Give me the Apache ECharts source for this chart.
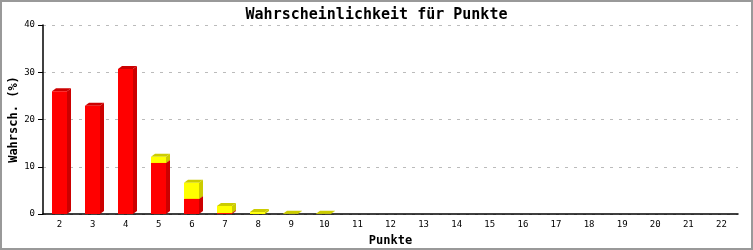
<!DOCTYPE html>
<html><head><meta charset="utf-8">
<script src="https://cdn.jsdelivr.net/npm/echarts@6/dist/echarts.min.js"></script>
<style>html,body{margin:0;padding:0;background:#fff}#c{width:753px;height:250px;position:absolute;left:0;top:0}#f{position:absolute;left:0;top:0;width:753px;height:250px;box-sizing:border-box;border:2px solid #999;pointer-events:none}</style>
</head><body><div id="c"></div><div id="f"></div>
<script>
const categories = ['2','3','4','5','6','7','8','9','10','11','12','13','14','15','16','17','18','19','20','21','22'];
const redValues = [26.0, 22.9, 30.7, 10.8, 3.2, 0.2, 0, 0, 0, 0, 0, 0, 0, 0, 0, 0, 0, 0, 0, 0, 0];
const yellowValues = [0, 0, 0, 1.3, 3.4, 1.5, 0.4, 0.05, 0.05, 0, 0, 0, 0, 0, 0, 0, 0, 0, 0, 0, 0];
const yTicks = [0, 10, 20, 30, 40];

const chart = echarts.init(document.getElementById('c'), null, {renderer: 'canvas'});
function make3D(values, bases, front, dark) {
  return {
    type: 'custom',
    data: values.map((v, i) => [i, bases[i], v]),
    encode: {x: 0, y: [1, 2]},
    renderItem: function (params, api) {
      const i = api.value(0), b = api.value(1), v = api.value(2);
      if (!v) return null;
      const p0 = api.coord([i, b]);
      const p1 = api.coord([i, b + v]);
      const w = 15, dx = 4, dy = 3;
      const x0 = Math.round(p0[0] - 8), x1 = x0 + w;
      const yb = p0[1], yt = p1[1];
      return {
        type: 'group',
        children: [
          {type: 'polygon', shape: {points: [[x1, yb], [x1 + dx, yb - dy], [x1 + dx, yt - dy], [x1, yt]]}, style: {fill: dark}},
          {type: 'polygon', shape: {points: [[x0, yt], [x0 + dx, yt - dy], [x1 + dx, yt - dy], [x1, yt]]}, style: {fill: dark}},
          {type: 'rect', shape: {x: x0, y: yt, width: w, height: yb - yt}, style: {fill: front}}
        ]
      };
    }
  };
}
const zeros = redValues.map(() => 0);
chart.setOption({
  animation: false,
  title: {text: 'Wahrscheinlichkeit für Punkte', left: 'center', top: 3,
    textStyle: {fontFamily: 'DejaVu Sans Mono', fontSize: 15, fontWeight: 'bold', color: '#000'}},
  grid: {left: 43, right: 15, top: 25, bottom: 36, outerBoundsMode: 'none', containLabel: false},
  xAxis: {type: 'category', data: categories, name: 'Punkte', nameLocation: 'middle', nameGap: 21,
    nameMoveOverlap: false,
    nameTextStyle: {fontFamily: 'DejaVu Sans Mono', fontSize: 12, fontWeight: 'bold', color: '#000'},
    axisLine: {lineStyle: {color: '#000', width: 1.5}}, axisTick: {show: false},
    axisLabel: {fontFamily: 'DejaVu Sans Mono', fontSize: 9, color: '#000', margin: 6}},
  yAxis: {type: 'value', min: 0, max: 40, interval: 10, name: 'Wahrsch. (%)', nameLocation: 'middle', nameGap: 23,
    nameMoveOverlap: false,
    nameTextStyle: {fontFamily: 'DejaVu Sans Mono', fontSize: 12, fontWeight: 'bold', color: '#000'},
    axisLine: {show: true, lineStyle: {color: '#000', width: 1.5}},
    axisTick: {show: true, length: 5, lineStyle: {color: '#000'}},
    axisLabel: {fontFamily: 'DejaVu Sans Mono', fontSize: 9, color: '#000', margin: 8,
      formatter: v => yTicks.includes(v) ? String(v) : ''},
    splitLine: {lineStyle: {color: '#bbb', type: [3, 6]}}},
  series: [
    make3D(redValues, zeros, '#ff0000', '#cc0000'),
    make3D(yellowValues, redValues, '#ffff00', '#cccc00'),
    {type: 'line', data: [], markLine: {silent: true, symbol: 'none', label: {show: false},
      lineStyle: {color: '#000', type: 'solid', width: 1.5}, data: [{xAxis: categories.length - 0.5}]}}
  ]
});
</script></body></html>
